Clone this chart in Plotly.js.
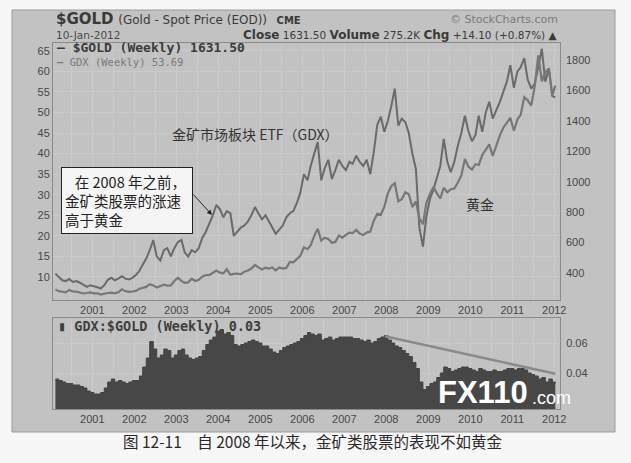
<!DOCTYPE html>
<html><head><meta charset="utf-8">
<script src="https://cdn.plot.ly/plotly-3.0.1.min.js"></script>
<style>html,body{margin:0;padding:0;background:#f7f7f7;}#chart{width:631px;height:463px;}</style>
</head><body><div id="chart"></div>
<script>
// ---------- DATA (monthly readings, Feb 2000 .. 10-Jan-2012) ----------
const gdxValues = [
  10.8,10.0,9.2,9.0,9.5,8.8,9.0,8.6,8.0,7.6,8.0,
  7.8,7.5,7.2,8.0,9.3,9.8,9.2,9.6,10.2,9.6,9.4,9.8,
  10.5,11.5,13.0,14.5,16.5,19.0,15.0,14.0,16.5,17.0,15.0,17.0,
  18.5,19.0,16.0,15.0,16.5,16.0,17.0,19.5,21.0,23.0,25.0,27.5,
  26.5,24.5,26.0,25.5,20.0,21.0,22.0,22.5,23.5,25.0,27.0,25.5,
  24.0,25.0,23.5,22.0,20.5,21.5,22.5,24.5,25.5,26.0,28.0,30.5,
  35.0,33.5,37.0,40.0,42.8,33.5,36.5,38.5,33.8,36.0,38.5,37.0,
  36.0,38.0,37.5,39.5,38.0,37.0,38.5,35.0,40.5,47.0,49.0,45.3,
  48.0,51.7,55.8,46.8,48.5,47.7,45.0,40.0,36.2,22.0,17.4,24.7,
  29.0,31.3,34.0,37.0,43.6,38.0,35.5,38.0,42.0,45.0,49.2,45.5,
  43.0,44.5,49.2,45.3,50.0,52.6,48.5,50.5,52.6,55.0,57.5,61.5,
  56.0,60.0,61.0,63.2,58.0,55.8,57.0,61.0,65.5,57.5,60.7,54.0,
  53.69
];
const goldValues = [
  292,280,276,272,288,278,277,272,265,268,272,
  266,266,258,264,268,270,266,273,292,280,275,278,
  282,296,302,308,326,318,304,312,323,317,318,347,
  368,348,335,338,362,347,355,375,386,385,398,416,
  402,397,425,388,394,396,391,408,416,429,452,438,
  422,434,428,436,417,436,429,433,472,470,495,513,
  568,556,582,644,690,613,632,623,599,604,646,632,
  650,665,662,683,659,650,665,672,743,789,783,834,
  923,972,990,871,885,930,918,833,870,760,720,860,
  920,965,925,890,960,930,950,955,995,1040,1150,1100,
  1080,1115,1110,1175,1210,1245,1170,1245,1305,1355,1385,1420,
  1335,1410,1440,1555,1535,1500,1625,1830,1660,1720,1745,1565,
  1631.5
];
const ratioValues = [
  .036,.035,.034,.033,.033,.032,.032,.031,.030,.028,.027,
  .026,.026,.027,.030,.034,.036,.034,.035,.034,.033,.034,.035,
  .035,.038,.044,.050,.061,.056,.050,.052,.056,.055,.050,.052,
  .055,.056,.052,.050,.049,.050,.051,.055,.059,.062,.064,.068,
  .069,.066,.067,.065,.059,.058,.059,.060,.061,.062,.061,.060,
  .058,.058,.056,.054,.053,.055,.057,.058,.059,.060,.061,.063,
  .065,.067,.066,.065,.066,.062,.063,.064,.062,.063,.064,.064,
  .064,.064,.063,.063,.062,.061,.062,.060,.061,.063,.064,.065,
  .062,.060,.058,.057,.055,.053,.051,.047,.043,.034,.029,.031,
  .033,.034,.037,.040,.044,.043,.041,.042,.043,.044,.044,.043,
  .042,.041,.043,.042,.041,.041,.042,.041,.041,.042,.043,.043,
  .042,.043,.043,.042,.040,.039,.038,.036,.037,.034,.036,.034,
  .033
];
const trendDates = ['2007-12-20','2012-01-10'];
const trendValues = [0.0645, 0.0395];
const yearLabels = ['2001','2002','2003','2004','2005','2006','2007','2008','2009','2010','2011','2012'];
const gdxTicks = [10,15,20,25,30,35,40,45,50,55,60,65];
const goldTicks = [400,600,800,1000,1200,1400,1600,1800];
const ratioTicks = [0.04,0.06];

// monthly date stamps
const dates = [];
for (let y = 2000; y <= 2011; y++) for (let m = 1; m <= 12; m++) {
  if (y === 2000 && m === 1) continue;
  dates.push(y + '-' + String(m).padStart(2,'0') + '-15');
}
dates.push('2012-01-10');

// half-year grid, labelled at year starts
const gridVals = [], gridText = [];
for (let y = 2000; y <= 2012; y++) {
  gridVals.push(y + '-01-01'); gridText.push(yearLabels.includes(String(y)) ? String(y) : '');
  gridVals.push(y + '-07-01'); gridText.push('');
}

const W = 631, H = 463;
const P = (x, y) => ({x: x / W, y: 1 - y / H, xref: 'paper', yref: 'paper'});
const tickFont = {family: 'Liberation Sans, Arial, sans-serif', size: 11, color: '#474747'};
const hdrFont = 'DejaVu Sans, Verdana, sans-serif';
const monoFont = 'DejaVu Sans Mono, Liberation Mono, monospace';
const cjkFont = 'Noto Sans CJK SC, sans-serif';
const xRange = ['2000-01-25', '2012-02-20'];
const gridColor = '#cbcbcb';

const traces = [
  {x: dates, y: gdxValues, type: 'scatter', mode: 'lines', xaxis: 'x', yaxis: 'y',
   line: {color: '#6a6a6a', width: 2}, hoverinfo: 'skip'},
  {x: dates, y: goldValues, type: 'scatter', mode: 'lines', xaxis: 'x', yaxis: 'y2',
   line: {color: '#777777', width: 2.2}, hoverinfo: 'skip'},
  {x: dates, y: ratioValues, type: 'scatter', mode: 'lines', fill: 'tozeroy', xaxis: 'x2', yaxis: 'y3',
   line: {color: '#434343', width: 1, shape: 'hv'}, fillcolor: '#474747', hoverinfo: 'skip'},
  {x: trendDates, y: trendValues, type: 'scatter', mode: 'lines', xaxis: 'x2', yaxis: 'y3',
   line: {color: '#8a8a8a', width: 2.5}, hoverinfo: 'skip'}
];

const xCommon = {type: 'date', range: xRange, tickmode: 'array', tickvals: gridVals, ticktext: gridText,
  showgrid: true, gridcolor: gridColor, gridwidth: 1, ticks: '', tickfont: tickFont,
  showline: true, mirror: true, linecolor: '#8a8a8a', linewidth: 1, zeroline: false, tickangle: 0};

const layout = {
  width: W, height: H, autosize: false,
  margin: {l: 0, r: 0, t: 0, b: 0},
  paper_bgcolor: '#f7f7f7', plot_bgcolor: '#f2f2f2',
  showlegend: false,
  xaxis: Object.assign({}, xCommon, {domain: [53 / W, 560 / W], anchor: 'y'}),
  xaxis2: Object.assign({}, xCommon, {domain: [53 / W, 560 / W], anchor: 'y3'}),
  yaxis: {domain: [1 - 300 / H, 1 - 43 / H], range: [4.4, 66.9], tickmode: 'array', tickvals: gdxTicks,
    side: 'left', showgrid: true, gridcolor: gridColor, ticks: '', tickfont: tickFont,
    showline: true, mirror: true, linecolor: '#8a8a8a', zeroline: false, anchor: 'x'},
  yaxis2: {overlaying: 'y', side: 'right', range: [222, 1912], tickmode: 'array', tickvals: goldTicks,
    ticktext: goldTicks.map(String), showgrid: false, ticks: '', tickfont: tickFont, zeroline: false,
    anchor: 'x', ticklabelstandoff: 5},
  yaxis3: {domain: [1 - 409 / H, 1 - 318 / H], range: [0.016, 0.0767], tickmode: 'array', tickvals: ratioTicks,
    ticktext: ['0.04', '0.06'], side: 'right', showgrid: true, gridcolor: gridColor, ticks: '',
    tickfont: tickFont, showline: true, mirror: true, linecolor: '#8a8a8a', zeroline: false, anchor: 'x2',
    ticklabelstandoff: 3},
  shapes: [
    {type: 'rect', xref: 'paper', yref: 'paper', x0: 12 / W, x1: 615 / W, y0: 1 - 432 / H, y1: 1 - 10 / H,
     fillcolor: '#c2c2c2', line: {color: '#9a9a9a', width: 1}, layer: 'below'}
  ],
  annotations: [
    Object.assign(P(54, 19), {text: '<b>$GOLD</b> <span style="font-size:12px">(Gold - Spot Price (EOD))</span>  <b><span style="font-size:10px">CME</span></b>',
      showarrow: false, xanchor: 'left', yanchor: 'middle', font: {family: hdrFont, size: 15, color: '#3a3a3a'}}),
    Object.assign(P(560, 19), {text: '© StockCharts.com', showarrow: false, xanchor: 'right', yanchor: 'middle',
      font: {family: hdrFont, size: 11, color: '#7a7a7a'}}),
    Object.assign(P(54, 35), {text: '10-Jan-2012', showarrow: false, xanchor: 'left', yanchor: 'middle',
      font: {family: hdrFont, size: 10.5, color: '#4a4a4a'}}),
    Object.assign(P(560, 35), {text: '<b><span style="font-size:12px">Close</span></b> 1631.50 <b><span style="font-size:12px">Volume</span></b> 275.2K <b><span style="font-size:12px">Chg</span></b> +14.10 (+0.87%) ▲',
      showarrow: false, xanchor: 'right', yanchor: 'middle',
      font: {family: hdrFont, size: 10.5, color: '#3a3a3a'}}),
    Object.assign(P(55, 47.5), {text: '<b>— $GOLD (Weekly) 1631.50</b>', showarrow: false, xanchor: 'left', yanchor: 'middle',
      font: {family: monoFont, size: 13, color: '#3a3a3a'}}),
    Object.assign(P(55, 61.5), {text: '<b>—</b> GDX (Weekly) 53.69', showarrow: false, xanchor: 'left', yanchor: 'middle',
      font: {family: monoFont, size: 10.5, color: '#7a7a7a'}}),
    Object.assign(P(56, 326), {text: '<b>▮ GDX:$GOLD (Weekly) 0.03</b>', showarrow: false, xanchor: 'left', yanchor: 'middle',
      font: {family: monoFont, size: 13.5, color: '#3e3e3e'}}),
    Object.assign(P(255, 134), {text: '金矿市场板块 ETF（GDX）', showarrow: false, xanchor: 'center', yanchor: 'middle',
      font: {family: cjkFont, size: 14, color: '#333'}}),
    Object.assign(P(480, 204), {text: '黄金', showarrow: false, xanchor: 'center', yanchor: 'middle',
      font: {family: cjkFont, size: 14, color: '#333'}}),
    Object.assign(P(61, 167), {text: '&nbsp;&nbsp;&nbsp;在 2008 年之前，<br>金矿类股票的涨速<br>高于黄金', showarrow: false,
      xanchor: 'left', yanchor: 'top', align: 'left', bgcolor: '#f5f5f5', bordercolor: '#222', borderwidth: 1,
      borderpad: 3, width: 124,
      font: {family: cjkFont, size: 14.5, color: '#222'}}),
    Object.assign(P(212, 215), {text: '', showarrow: true, ax: -20, ay: -22, arrowhead: 2, arrowsize: 1,
      arrowwidth: 1, arrowcolor: '#222'}),
    Object.assign(P(313, 441), {text: '图 12-11　自 2008 年以来，金矿类股票的表现不如黄金', showarrow: false,
      xanchor: 'center', yanchor: 'middle', font: {family: cjkFont, size: 15.5, color: '#2a2a2a'}}),
    Object.assign(P(436, 392), {text: '<b>FX110</b>', showarrow: false, xanchor: 'left', yanchor: 'middle',
      font: {family: 'Liberation Sans, Arial', size: 31, color: '#ffffff'}}),
    Object.assign(P(530, 398), {text: '.com', showarrow: false, xanchor: 'left', yanchor: 'middle',
      font: {family: 'Liberation Sans, Arial', size: 18, color: '#ffffff'}})
  ]
};

Plotly.newPlot('chart', traces, layout, {staticPlot: true, displayModeBar: false});
</script></body></html>
